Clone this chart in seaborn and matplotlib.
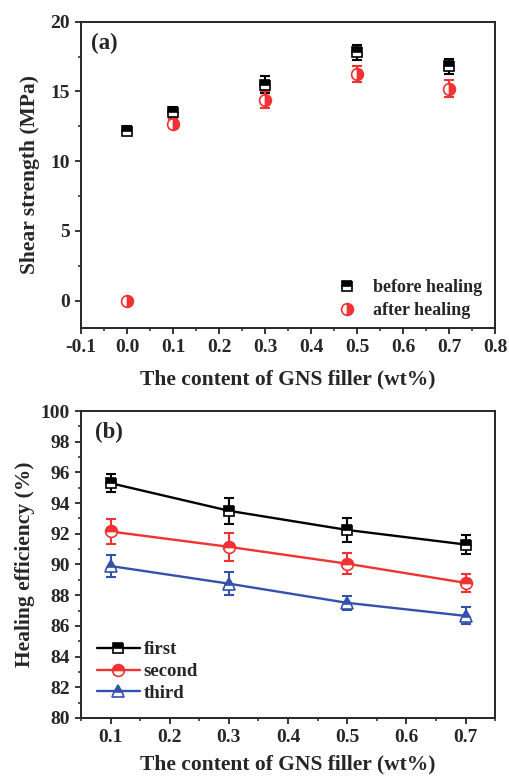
import numpy as np
import pandas as pd
import matplotlib
matplotlib.use("Agg")
import matplotlib.pyplot as plt
import seaborn as sns
from matplotlib.ticker import MultipleLocator

# Data
content_a = [0.0, 0.1, 0.3, 0.5, 0.7]
before = [12.2, 13.5, 15.5, 17.8, 16.8]
before_err = [0.3, 0.4, 0.6, 0.55, 0.55]
after = [0.0, 12.7, 14.4, 16.25, 15.2]
after_err = [0.0, 0.3, 0.6, 0.6, 0.6]

content_b = [0.1, 0.3, 0.5, 0.7]
first = [95.3, 93.5, 92.25, 91.3]
first_err = [0.6, 0.85, 0.8, 0.6]
second = [92.15, 91.15, 90.05, 88.8]
second_err = [0.8, 0.9, 0.7, 0.6]
third = [89.9, 88.75, 87.5, 86.65]
third_err = [0.7, 0.75, 0.45, 0.55]

RED = "#f03232"
BLUE = "#3450ad"

sns.set_style("ticks")
plt.rcParams["font.family"] = ["Liberation Serif", "DejaVu Serif"]
plt.rcParams["font.weight"] = "bold"
plt.rcParams["axes.labelweight"] = "bold"
plt.rcParams["axes.linewidth"] = 1.4
plt.rcParams["xtick.major.width"] = 1.3
plt.rcParams["ytick.major.width"] = 1.3
plt.rcParams["xtick.minor.width"] = 1.1
plt.rcParams["ytick.minor.width"] = 1.1
plt.rcParams["xtick.major.size"] = 4.5
plt.rcParams["ytick.major.size"] = 4.5
plt.rcParams["xtick.minor.size"] = 2.5
plt.rcParams["ytick.minor.size"] = 2.5

fig = plt.figure(figsize=(5.09, 7.77), dpi=100)
ax1 = fig.add_axes([0.159, 0.578, 0.814, 0.394])
ax2 = fig.add_axes([0.159, 0.076, 0.814, 0.395])

# Panel (a)
df_a = pd.DataFrame({"x": content_a, "before": before, "after": after})

ax1.errorbar(content_a, before, yerr=before_err, fmt="none", ecolor="black",
             elinewidth=1.5, capsize=3.6, capthick=1.5, zorder=2)
ax1.errorbar(content_a[1:], after[1:], yerr=after_err[1:], fmt="none", ecolor=RED,
             elinewidth=1.5, capsize=3.6, capthick=1.5, zorder=2)
sns.lineplot(data=df_a, x="x", y="before", ax=ax1, linestyle="", marker="s",
             markersize=7.5, color="black", markerfacecolor="black",
             markerfacecoloralt="white", fillstyle="top", markeredgewidth=1.2,
             markeredgecolor="black", label="before healing", zorder=3)
sns.lineplot(data=df_a, x="x", y="after", ax=ax1, linestyle="", marker="o",
             markersize=8.5, color=RED, markerfacecolor=RED,
             markerfacecoloralt="white", fillstyle="right", markeredgewidth=1.2,
             markeredgecolor=RED, label="after healing", zorder=3)

ax1.set_xlim(-0.1, 0.8)
ax1.set_ylim(-1.95, 20)
ax1.xaxis.set_minor_locator(MultipleLocator(0.05))
ax1.yaxis.set_major_locator(MultipleLocator(5))
ax1.yaxis.set_minor_locator(MultipleLocator(2.5))
ax1.set_xticks(np.arange(-0.1, 0.81, 0.1))
ax1.set_xticklabels([f"{v:.1f}" for v in np.arange(-0.1, 0.81, 0.1)])
ax1.set_xlabel("The content of GNS filler (wt%)", fontsize=15.5, labelpad=10)
ax1.set_ylabel("Shear strength (MPa)", fontsize=15.5, labelpad=7)
ax1.tick_params(labelsize=14)
ax1.text(0.025, 0.965, "(a)", transform=ax1.transAxes, fontsize=16.5,
         fontweight="bold", va="top")
ax1.legend(loc="lower right", frameon=False, fontsize=13, handlelength=0.8,
           handletextpad=1.0, borderaxespad=0.0, labelspacing=0.35,
           bbox_to_anchor=(0.985, 0.005))

# Panel (b)
df_b = pd.DataFrame({"x": content_b, "first": first, "second": second,
                     "third": third})
series = [
    ("first", first_err, "black", "s", 7.5),
    ("second", second_err, RED, "o", 8.5),
    ("third", third_err, BLUE, "^", 8.5),
]
for name, err, col, mk, ms in series:
    ax2.errorbar(content_b, df_b[name], yerr=err, fmt="none", ecolor=col,
                 elinewidth=1.5, capsize=3.6, capthick=1.5, zorder=2)
    sns.lineplot(data=df_b, x="x", y=name, ax=ax2, color=col, linewidth=1.7,
                 marker=mk, markersize=ms, markerfacecolor=col,
                 markerfacecoloralt="white", fillstyle="top",
                 markeredgecolor=col, markeredgewidth=1.2, label=name,
                 zorder=3)

ax2.set_xlim(0.05, 0.75)
ax2.set_ylim(80, 100)
ax2.xaxis.set_minor_locator(MultipleLocator(0.05))
ax2.yaxis.set_major_locator(MultipleLocator(2))
ax2.yaxis.set_minor_locator(MultipleLocator(1))
ax2.set_xticks([0.1, 0.2, 0.3, 0.4, 0.5, 0.6, 0.7])
ax2.set_xticklabels(["0.1", "0.2", "0.3", "0.4", "0.5", "0.6", "0.7"])
ax2.set_xlabel("The content of GNS filler (wt%)", fontsize=15.5, labelpad=6)
ax2.set_ylabel("Healing efficiency (%)", fontsize=15.5, labelpad=4)
ax2.tick_params(labelsize=14)
ax2.text(0.035, 0.965, "(b)", transform=ax2.transAxes, fontsize=16.5,
         fontweight="bold", va="top")
ax2.legend(loc="lower left", frameon=False, fontsize=13.5, handlelength=2.3,
           handletextpad=0.2, borderaxespad=0.45, labelspacing=0.25)

for ax in (ax1, ax2):
    for lbl in ax.get_xticklabels() + ax.get_yticklabels():
        lbl.set_fontweight("bold")

fig.savefig("out.png", dpi=100)
